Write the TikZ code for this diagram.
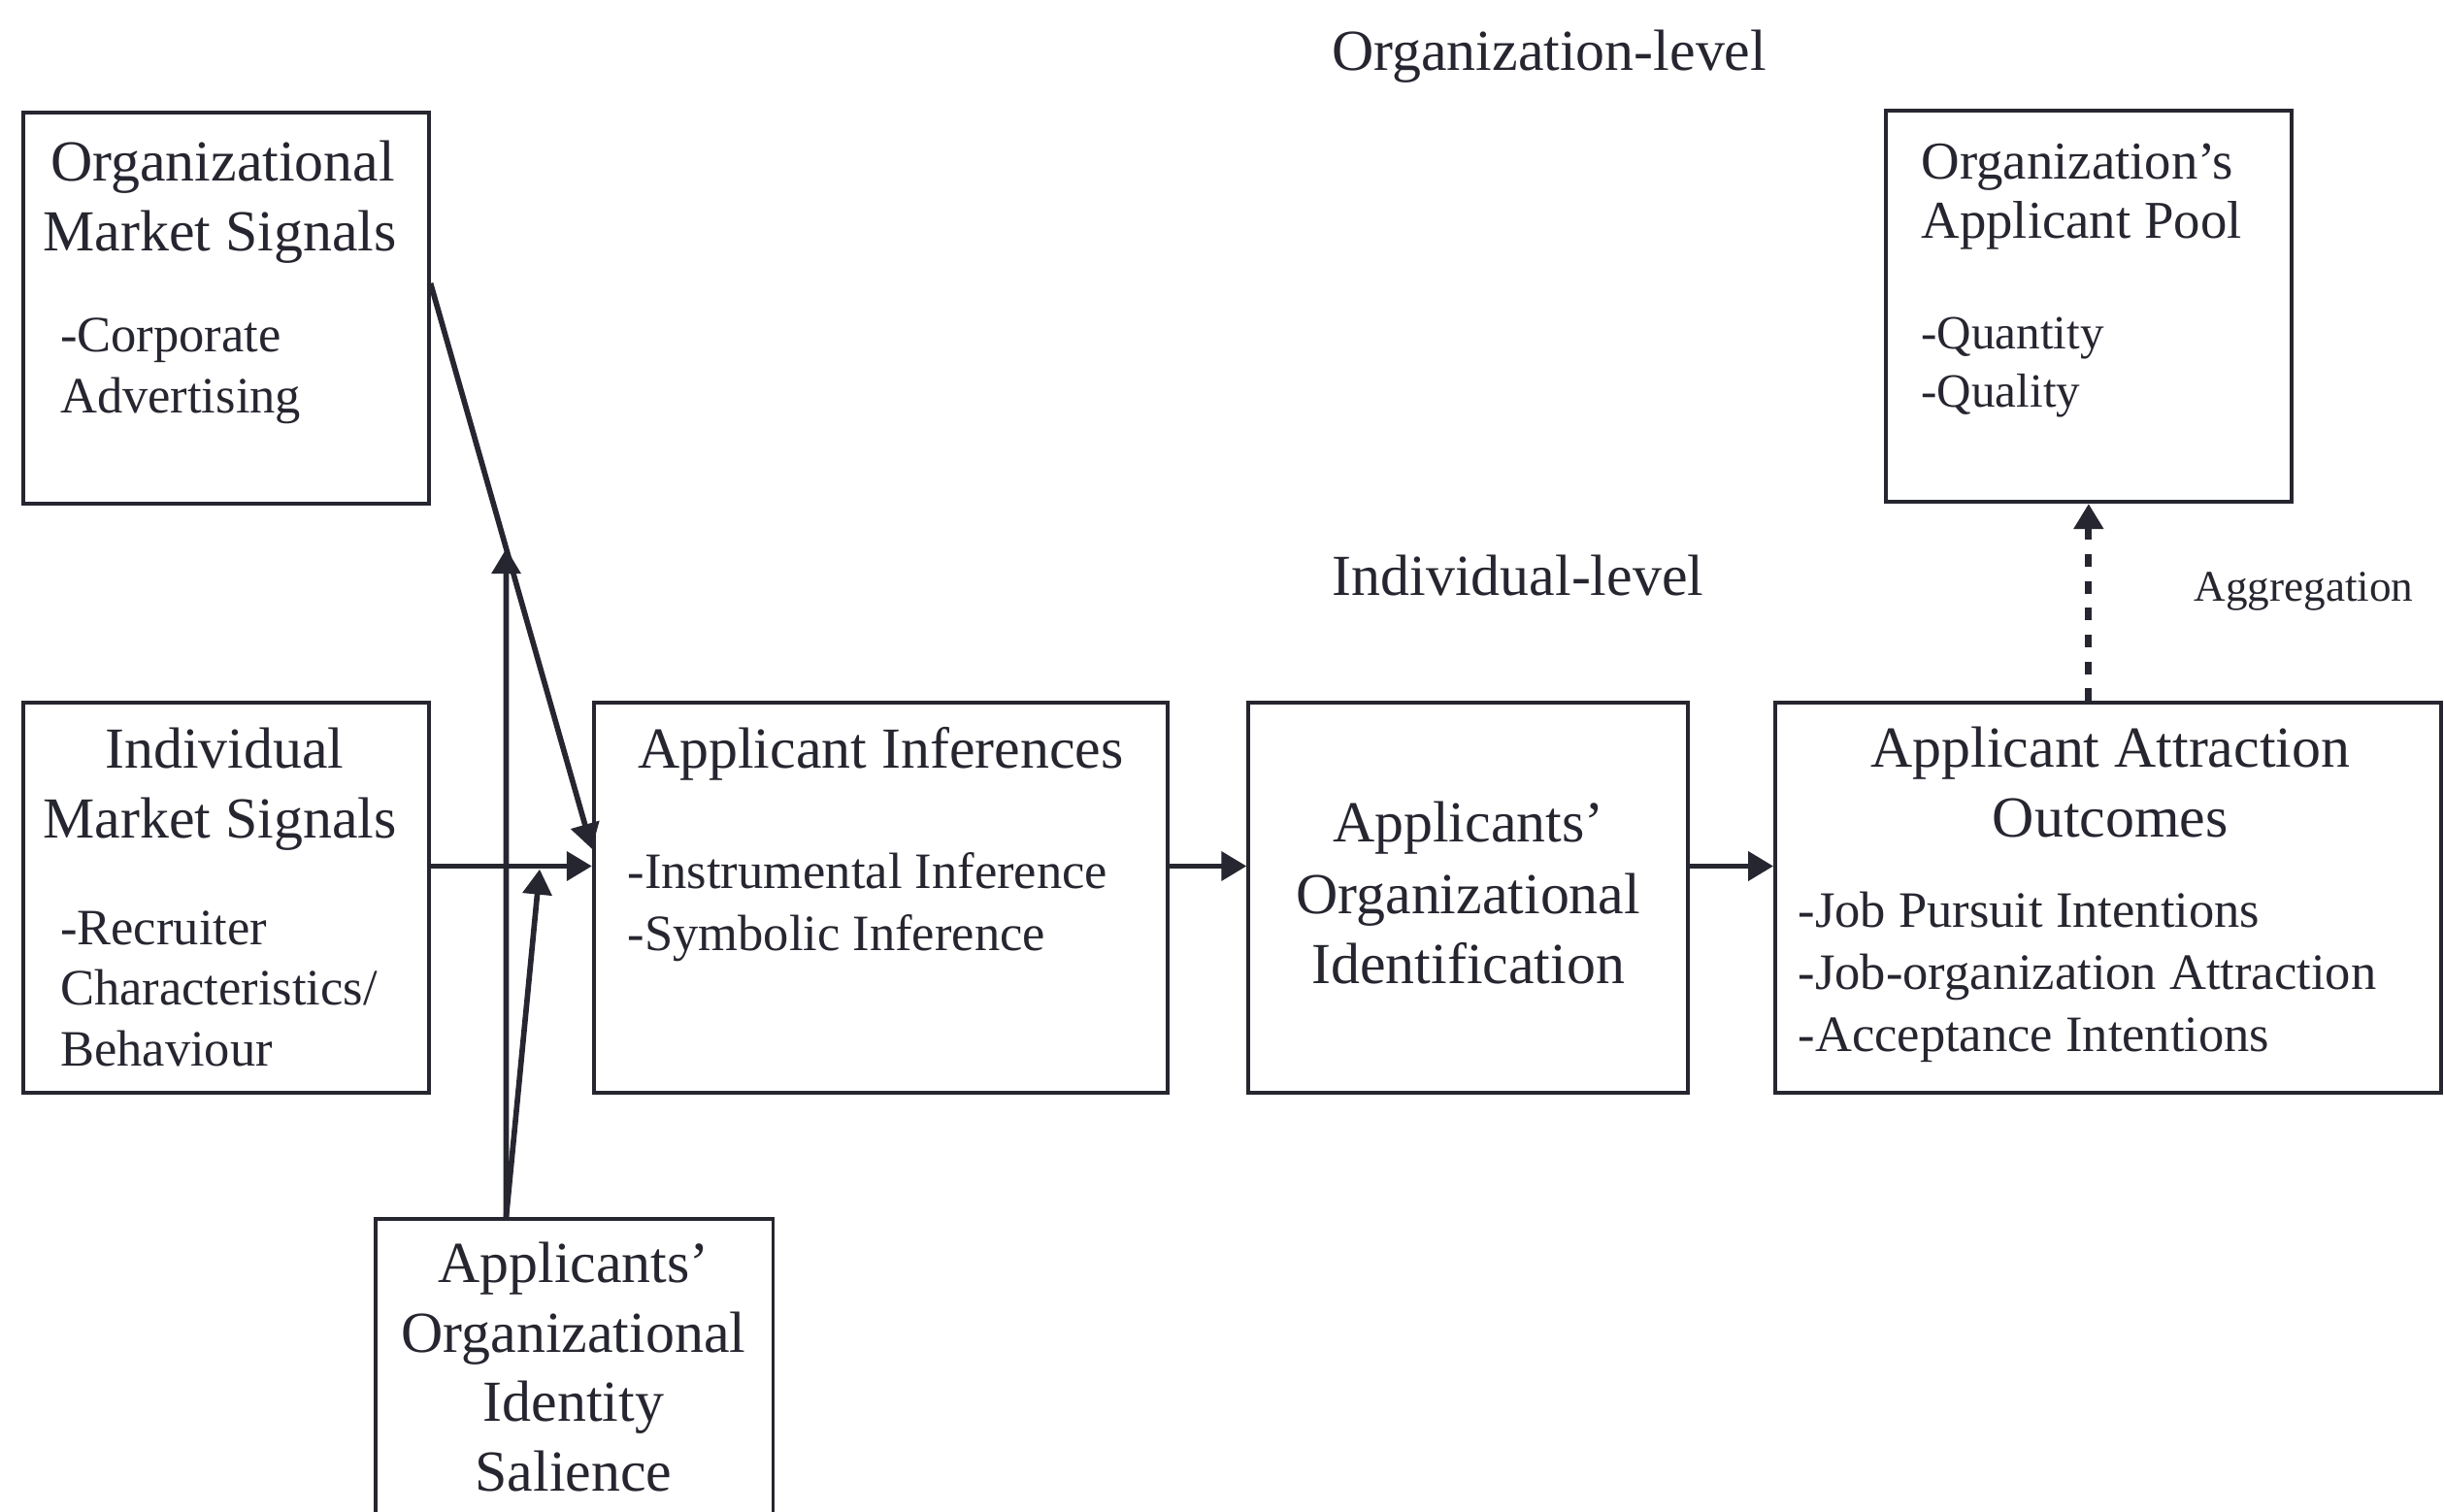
\documentclass[tikz,border=0pt]{standalone}
\usepackage{fontspec}
\setmainfont{Liberation Serif}
\usetikzlibrary{arrows.meta,fit,calc}
\definecolor{ink}{RGB}{38,38,48}
\begin{document}
\begin{tikzpicture}[x=0.01cm,y=-0.01cm,
  box/.style={draw=ink, line width=0.7pt, inner sep=0pt},
  ttl/.style={font=\fontsize{10.6}{12}\selectfont, text=ink, inner sep=0pt, anchor=base},
  itm/.style={font=\fontsize{9.3}{11}\selectfont, text=ink, inner sep=0pt, anchor=base west},
  poolttl/.style={font=\fontsize{9.7}{11}\selectfont, text=ink, inner sep=0pt, anchor=base west},
  poolitm/.style={font=\fontsize{8.7}{10}\selectfont, text=ink, inner sep=0pt, anchor=base west},
  agg/.style={font=\fontsize{8}{9}\selectfont, text=ink, inner sep=0pt, anchor=base},
  arr/.style={draw=ink, line width=1pt, -{Triangle[length=4.6pt,width=5.2pt]}},
  dasharr/.style={draw=ink, line width=1.2pt, dash pattern=on 2.3pt off 2.6pt, -{Triangle[length=4.6pt,width=5.2pt]}}
]
\useasboundingbox (0,0) rectangle (1568,970);
\fill[white] (0,0) rectangle (1568,970);
\clip (0,0) rectangle (1568,970);

% boxes
\node[box, fit={(15,72) (275,323)}] (OMS) {};
\node[box, fit={(15,451) (275,701)}] (IMS) {};
\node[box, fit={(381,451) (749,701)}] (AI) {};
\node[box, fit={(801,451) (1083,701)}] (AOI) {};
\node[box, fit={(1139,451) (1566,701)}] (AAO) {};
\node[box, fit={(1210,71) (1470,322)}] (OAP) {};
\node[box, fit={(241,782) (496,1010)}] (AOIS) {};

% level labels
\node[ttl] (orglevel) at (994,45) {Organization-level};
\node[ttl] (indlevel) at (974,382) {Individual-level};
\node[agg] (aggr) at (1478,386) {Aggregation};

% OMS text
\node[ttl] (oms1) at (143,116) {Organizational};
\node[ttl] (oms2) at (141,161) {Market Signals};
\node[itm] (oms3) at (38,226) {-Corporate};
\node[itm] (oms4) at (38,265) {Advertising};

% IMS text
\node[ttl] (ims1) at (144,493) {Individual};
\node[ttl] (ims2) at (141,538) {Market Signals};
\node[itm] (ims3) at (38,606) {-Recruiter};
\node[itm] (ims4) at (38,645) {Characteristics/};
\node[itm] (ims5) at (38,684) {Behaviour};

% AI text
\node[ttl] (ai1) at (565,493) {Applicant Inferences};
\node[itm] (ai2) at (402,570) {-Instrumental Inference};
\node[itm] (ai3) at (402,610) {-Symbolic Inference};

% AOI text
\node[ttl] (aoi1) at (942,540) {Applicants’};
\node[ttl] (aoi2) at (942,586) {Organizational};
\node[ttl] (aoi3) at (942,631) {Identification};

% AAO text
\node[ttl] (aao1) at (1354,492) {Applicant Attraction};
\node[ttl] (aao2) at (1354,537) {Outcomes};
\node[itm] (aao3) at (1153,595) {-Job Pursuit Intentions};
\node[itm] (aao4) at (1153,635) {-Job-organization Attraction};
\node[itm] (aao5) at (1153,675) {-Acceptance Intentions};

% OAP text
\node[poolttl] (oap1) at (1232,115) {Organization’s};
\node[poolttl] (oap2) at (1232,153) {Applicant Pool};
\node[poolitm] (oap3) at (1232,224) {-Quantity};
\node[poolitm] (oap4) at (1232,261) {-Quality};

% AOIS text
\node[ttl] (aois1) at (368,823) {Applicants’};
\node[ttl] (aois2) at (368,868) {Organizational};
\node[ttl] (aois3) at (368,912) {Identity};
\node[ttl] (aois4) at (368,957) {Salience};

% connectors
\coordinate (d1) at ($(OMS.north east)+(0,111)$);
\coordinate (d2) at ($(AI.north west)+(0,95)$);
\draw[arr] (d1) -- (d2);

\coordinate (m) at ($(IMS.north east)+(0,106)$);
\draw[arr] (m) -- (m -| AI.west);
\draw[arr] (m -| AI.east) -- (m -| AOI.west);
\draw[arr] (m -| AOI.east) -- (m -| AAO.west);

\coordinate (s) at ($(AOIS.north west)+(85,0)$);
\coordinate (sv) at (s |- d1);
\draw[arr] (s) -- (intersection of s--sv and d1--d2);
\coordinate (s2) at ($(m)+(70,2)$);
\draw[arr] (s) -- (s2);

\draw[dasharr] (OAP.south |- AAO.north) -- (OAP.south);
\end{tikzpicture}
\end{document}
